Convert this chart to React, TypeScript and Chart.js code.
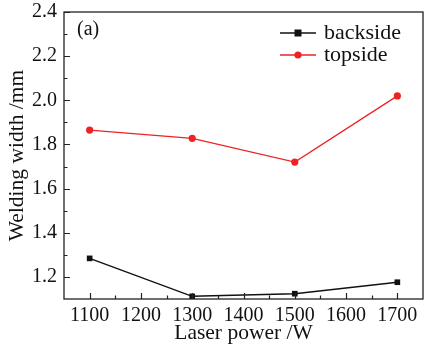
import React, { useEffect, useRef } from "react";
import { Chart, registerables } from "chart.js";

Chart.register(...registerables);

const laserPower = [1100, 1300, 1500, 1700];
const backside = [1.284, 1.112, 1.124, 1.176];
const topside = [1.865, 1.828, 1.72, 2.02];
const xTicks = [1100, 1200, 1300, 1400, 1500, 1600, 1700];
const xMinorTicks = [1150, 1250, 1350, 1450, 1550, 1650];
const yTicks = [1.2, 1.4, 1.6, 1.8, 2.0, 2.2, 2.4];
const yMinorTicks = [1.3, 1.5, 1.7, 1.9, 2.1, 2.3];
const seriesNames = ["backside", "topside"];
const panelLabel = "(a)";
const xTitle = "Laser power /W";
const yTitle = "Welding width /mm";

const FONT = "'Liberation Serif', 'Times New Roman', serif";
const BLACK = "#111111";
const RED = "#ee2222";

export default function App() {
  const ref = useRef<HTMLCanvasElement | null>(null);

  useEffect(() => {
    document.body.style.margin = "0";
    const canvas = ref.current;
    if (!canvas) return;

    const framePlugin = {
      id: "framePlugin",
      afterDraw(chart: any) {
        const ctx = chart.ctx;
        const { left, right, top, bottom } = chart.chartArea;
        const xs = chart.scales.x;
        const ys = chart.scales.y;
        ctx.save();
        ctx.strokeStyle = "#222";
        ctx.lineWidth = 1.3;
        ctx.strokeRect(left, top, right - left, bottom - top);
        ctx.lineWidth = 1.2;
        ctx.beginPath();
        xTicks.forEach((v) => {
          const px = Math.round(xs.getPixelForValue(v)) + 0.5;
          ctx.moveTo(px, bottom);
          ctx.lineTo(px, bottom - 6);
        });
        xMinorTicks.forEach((v) => {
          const px = Math.round(xs.getPixelForValue(v)) + 0.5;
          ctx.moveTo(px, bottom);
          ctx.lineTo(px, bottom - 3.5);
        });
        yTicks.forEach((v) => {
          const py = Math.round(ys.getPixelForValue(v)) + 0.5;
          ctx.moveTo(left, py);
          ctx.lineTo(left + 6, py);
        });
        yMinorTicks.forEach((v) => {
          const py = Math.round(ys.getPixelForValue(v)) + 0.5;
          ctx.moveTo(left, py);
          ctx.lineTo(left + 3.5, py);
        });
        ctx.stroke();

        // panel label
        ctx.fillStyle = BLACK;
        ctx.font = `20px ${FONT}`;
        ctx.textBaseline = "middle";
        ctx.textAlign = "left";
        ctx.fillText(panelLabel, left + 13, top + 18);

        // legend
        const colors = [BLACK, RED];
        const shapes = ["rect", "circle"];
        seriesNames.forEach((name, i) => {
          const y = top + 21 + i * 22;
          const x0 = right - 143;
          ctx.strokeStyle = colors[i];
          ctx.lineWidth = 1.5;
          ctx.beginPath();
          ctx.moveTo(x0, y);
          ctx.lineTo(x0 + 36, y);
          ctx.stroke();
          ctx.fillStyle = colors[i];
          if (shapes[i] === "rect") {
            ctx.fillRect(x0 + 18 - 3.5, y - 3.5, 7, 7);
          } else {
            ctx.beginPath();
            ctx.arc(x0 + 18, y, 3.6, 0, Math.PI * 2);
            ctx.fill();
          }
          ctx.fillStyle = BLACK;
          ctx.font = `22px ${FONT}`;
          ctx.fillText(name, x0 + 44, y);
        });
        ctx.restore();
      },
    };

    const chart = new Chart(canvas, {
      type: "line",
      data: {
        datasets: [
          {
            label: seriesNames[0],
            data: laserPower.map((x, i) => ({ x, y: backside[i] })),
            borderColor: BLACK,
            backgroundColor: BLACK,
            borderWidth: 1.5,
            pointStyle: "rect",
            pointRadius: 4,
            pointBorderWidth: 0,
          },
          {
            label: seriesNames[1],
            data: laserPower.map((x, i) => ({ x, y: topside[i] })),
            borderColor: RED,
            backgroundColor: RED,
            borderWidth: 1.3,
            pointStyle: "circle",
            pointRadius: 3.6,
            pointBorderWidth: 0,
          },
        ],
      },
      options: {
        animation: false,
        responsive: false,
        layout: { padding: { top: 12, right: 1, left: 0, bottom: 0 } },
        plugins: { legend: { display: false }, tooltip: { enabled: false } },
        scales: {
          x: {
            type: "linear",
            min: 1050,
            max: 1750,
            afterBuildTicks: (s: any) => {
              s.ticks = xTicks.map((v) => ({ value: v }));
            },
            afterFit: (s: any) => {
              s.height = 47;
              s.paddingLeft = 0;
              s.paddingRight = 0;
            },
            grid: { display: false, drawTicks: false },
            border: { display: false },
            ticks: {
              color: BLACK,
              font: { family: FONT, size: 20 },
              padding: 5,
              maxRotation: 0,
              callback: (v: any) => String(v),
            },
            title: {
              display: true,
              text: xTitle,
              color: BLACK,
              font: { family: FONT, size: 21.5 },
              padding: { top: 0, bottom: 0 },
            },
          },
          y: {
            type: "linear",
            min: 1.1,
            max: 2.4,
            afterBuildTicks: (s: any) => {
              s.ticks = yTicks.map((v) => ({ value: v }));
            },
            afterFit: (s: any) => {
              s.width = 64;
              s.paddingTop = 0;
              s.paddingBottom = 0;
            },
            grid: { display: false, drawTicks: false },
            border: { display: false },
            ticks: {
              color: BLACK,
              font: { family: FONT, size: 20 },
              padding: 7,
              callback: (v: any) => Number(v).toFixed(1),
            },
            title: {
              display: true,
              text: yTitle,
              color: BLACK,
              font: { family: FONT, size: 21.5 },
              padding: { top: 4, bottom: 0 },
            },
          },
        },
      },
      plugins: [framePlugin],
    } as any);

    return () => chart.destroy();
  }, []);

  return (
    <div style={{ position: "absolute", left: 0, top: 0, width: 427, height: 346, background: "#fff" }}>
      <canvas ref={ref} width={427} height={346} style={{ width: 427, height: 346 }} />
    </div>
  );
}
